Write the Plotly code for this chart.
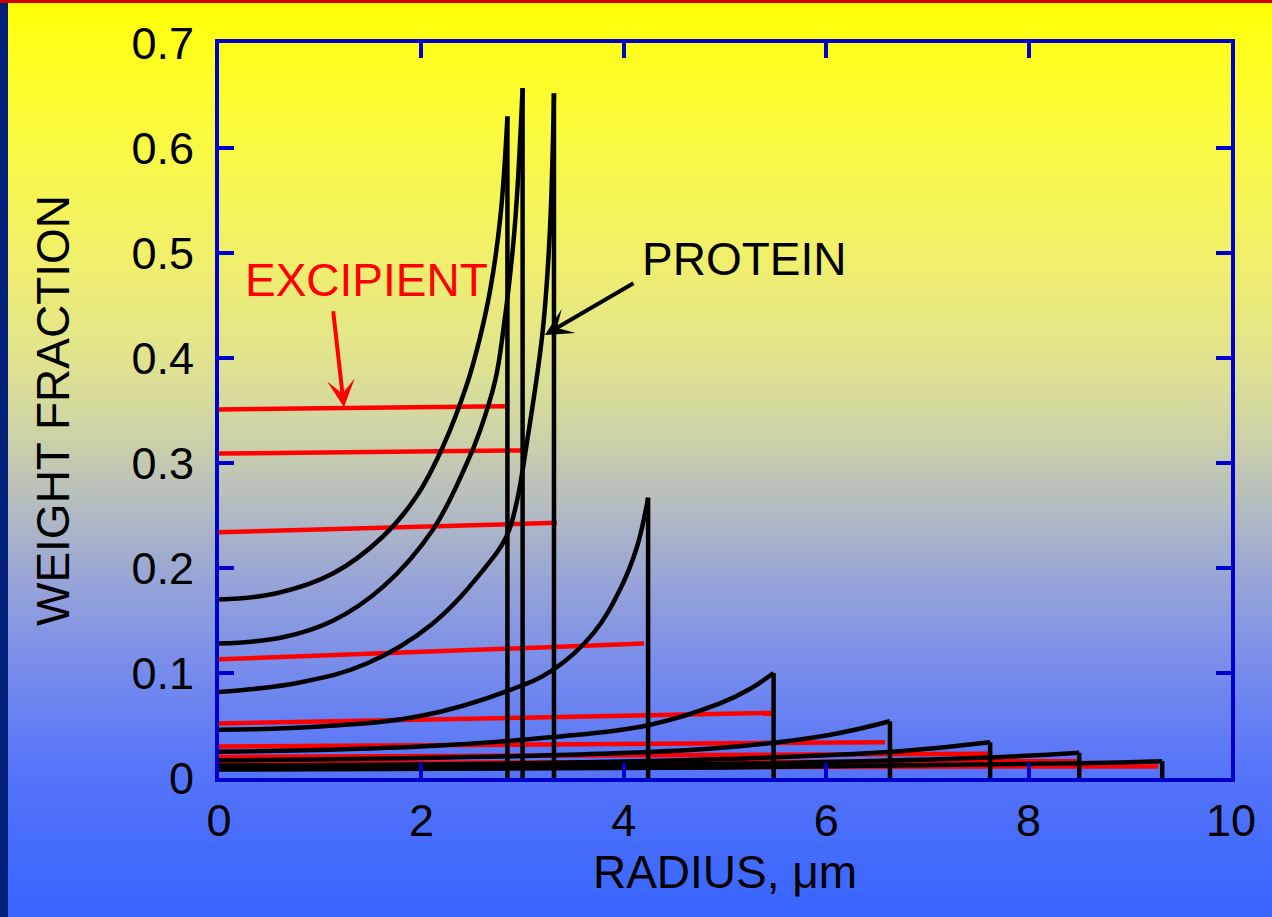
import base64
import struct
import zlib

import plotly.graph_objects as go

# ---------------- data ----------------
# Final droplet radius (um) for each drying stage
drop_radius = [2.85, 3.00, 3.31, 4.24, 5.48, 6.63, 7.62, 8.50, 9.32]

# Protein weight-fraction profiles (radius, weight fraction)
protein_r = [
    [0, 0.57, 1.13, 1.62, 1.95, 2.21, 2.45, 2.57, 2.68, 2.78, 2.85],
    [0, 0.63, 1.13, 1.62, 2.11, 2.45, 2.58, 2.73, 2.81, 2.92, 3.00],
    [0, 0.80, 1.46, 2.11, 2.61, 2.84, 2.94, 3.04, 3.20, 3.27, 3.31],
    [0, 1.00, 1.99, 2.88, 3.30, 3.70, 3.96, 4.13, 4.24],
    [0, 1.99, 3.30, 4.23, 4.95, 5.25, 5.48],
    [0, 2.00, 3.76, 5.00, 6.03, 6.63],
    [0, 3.00, 5.00, 6.65, 7.62],
    [0, 4.00, 7.47, 8.50],
    [0, 5.00, 8.50, 9.32],
]
protein_w = [
    [0.170, 0.176, 0.195, 0.230, 0.268, 0.315, 0.375, 0.416, 0.465, 0.534, 0.630],
    [0.128, 0.134, 0.150, 0.182, 0.236, 0.300, 0.331, 0.379, 0.427, 0.522, 0.657],
    [0.082, 0.091, 0.109, 0.147, 0.198, 0.230, 0.262, 0.318, 0.427, 0.522, 0.652],
    [0.046, 0.049, 0.059, 0.084, 0.103, 0.138, 0.179, 0.220, 0.267],
    [0.025, 0.030, 0.039, 0.050, 0.071, 0.085, 0.100],
    [0.017, 0.019, 0.023, 0.029, 0.041, 0.054],
    [0.012, 0.014, 0.018, 0.025, 0.034],
    [0.010, 0.012, 0.019, 0.024],
    [0.008, 0.010, 0.014, 0.016],
]

# Excipient weight-fraction profiles (radius, weight fraction)
excipient_r = [
    [0, 2.84], [0, 3.00], [0, 3.34], [0, 4.20], [0, 5.48],
    [0, 6.58], [0, 7.60], [0, 8.50], [0, 9.28],
]
excipient_w = [
    [0.351, 0.354], [0.309, 0.312], [0.234, 0.243], [0.113, 0.128], [0.052, 0.062],
    [0.030, 0.034], [0.020, 0.023], [0.014, 0.016], [0.010, 0.011],
]

x_ticks = [0, 2, 4, 6, 8, 10]
y_ticks = [0, 0.1, 0.2, 0.3, 0.4, 0.5, 0.6, 0.7]
y_tick_text = ["0", "0.1", "0.2", "0.3", "0.4", "0.5", "0.6", "0.7"]

# ---------------- styling ----------------
W, H = 1272, 917
ML, MR, MT, MB = 219, 41, 43, 139
PW, PH = W - ML - MR, H - MT - MB
FONT = "Liberation Sans, Arial, Helvetica, sans-serif"
AXIS_BLUE = "#0000CC"
LW = 4.5

# vertical background gradient (pixel row, rgb)
grad_stops = [
    (0, (255, 255, 0)), (40, (255, 255, 25)), (150, (249, 249, 70)),
    (250, (241, 240, 105)), (350, (226, 228, 140)), (420, (210, 214, 162)),
    (500, (182, 190, 190)), (580, (152, 164, 215)), (660, (122, 142, 234)),
    (760, (88, 118, 248)), (917, (55, 100, 255)),
]


def grad_color(y):
    for (y0, c0), (y1, c1) in zip(grad_stops[:-1], grad_stops[1:]):
        if y0 <= y <= y1:
            t = (y - y0) / (y1 - y0) if y1 > y0 else 0
            return tuple(int(round(a + (b - a) * t)) for a, b in zip(c0, c1))
    return grad_stops[-1][1]


def make_png(width, height):
    raw = b""
    for y in range(height):
        r, g, b = grad_color(y)
        raw += b"\x00" + bytes([r, g, b]) * width

    def chunk(tag, data):
        c = struct.pack(">I", len(data)) + tag + data
        return c + struct.pack(">I", zlib.crc32(tag + data) & 0xFFFFFFFF)
    png = b"\x89PNG\r\n\x1a\n"
    png += chunk(b"IHDR", struct.pack(">IIBBBBB", width, height, 8, 2, 0, 0, 0))
    png += chunk(b"IDAT", zlib.compress(raw, 9))
    png += chunk(b"IEND", b"")
    return "data:image/png;base64," + base64.b64encode(png).decode()


def px_x(p):
    return (p - ML) / PW


def px_y(p):
    return (H - MB - p) / PH


fig = go.Figure()

# excipient (red) lines
for r, w in zip(excipient_r, excipient_w):
    fig.add_trace(go.Scatter(x=r, y=w, mode="lines",
                             line=dict(color="#FF0000", width=LW),
                             hoverinfo="skip", showlegend=False))

# protein (black) curves with a vertical drop at the droplet surface
for r, w, R in zip(protein_r, protein_w, drop_radius):
    fig.add_trace(go.Scatter(x=r, y=w, mode="lines",
                             line=dict(color="black", width=LW, shape="spline", smoothing=1.1),
                             hoverinfo="skip", showlegend=False))
    fig.add_trace(go.Scatter(x=[R, R], y=[w[-1], 0], mode="lines",
                             line=dict(color="black", width=LW),
                             hoverinfo="skip", showlegend=False))

TICK_FONT = dict(family=FONT, size=45, color="black")
TEXT_FONT = dict(family=FONT, size=46, color="black")

axis_common = dict(
    showline=True, linecolor=AXIS_BLUE, linewidth=4, mirror="ticks",
    ticks="inside", ticklen=15, tickwidth=4, tickcolor=AXIS_BLUE,
    showgrid=False, zeroline=False, tickfont=TICK_FONT,
)

fig.update_layout(
    width=W, height=H,
    margin=dict(l=ML, r=MR, t=MT, b=MB, pad=0),
    paper_bgcolor="rgba(0,0,0,0)", plot_bgcolor="rgba(0,0,0,0)",
    font=TEXT_FONT,
    xaxis=dict(range=[0, 10], tickvals=x_ticks, ticklabelstandoff=0,
               title=dict(text="RADIUS, \u03bcm", standoff=12, font=TEXT_FONT),
               **axis_common),
    yaxis=dict(range=[0, 0.7], tickvals=y_ticks, ticktext=y_tick_text,
               ticklabelstandoff=12,
               title=dict(text="WEIGHT FRACTION", standoff=48, font=TEXT_FONT),
               **axis_common),
    images=[dict(source=make_png(2, H), xref="paper", yref="paper",
                 x=px_x(0), y=px_y(0), sizex=W / PW, sizey=H / PH,
                 xanchor="left", yanchor="top", sizing="stretch",
                 layer="below")],
    shapes=[
        dict(type="rect", xref="paper", yref="paper", x0=px_x(0), x1=px_x(W),
             y0=px_y(0), y1=px_y(3), fillcolor="#CC0000", line=dict(width=0),
             layer="below"),
        dict(type="rect", xref="paper", yref="paper", x0=px_x(0), x1=px_x(8),
             y0=px_y(3), y1=px_y(H), fillcolor="#00207A", line=dict(width=0),
             layer="below"),
    ],
    annotations=[
        dict(text="EXCIPIENT", x=1.46, y=0.474, xref="x", yref="y",
             showarrow=False, font=dict(family=FONT, size=46, color="#FF0000")),
        dict(text="PROTEIN", x=5.19, y=0.494, xref="x", yref="y",
             showarrow=False, font=TEXT_FONT),
        dict(text="", x=1.235, y=0.353, ax=1.127, ay=0.446, xref="x", yref="y",
             axref="x", ayref="y", showarrow=True, arrowhead=3, arrowsize=1.15,
             arrowwidth=4, arrowcolor="#FF0000", standoff=0),
        dict(text="", x=3.22, y=0.422, ax=4.11, ay=0.472, xref="x", yref="y",
             axref="x", ayref="y", showarrow=True, arrowhead=3, arrowsize=1.15,
             arrowwidth=4, arrowcolor="black", standoff=0),
    ],
)

fig.write_html(
    "out.html",
    config={"displayModeBar": False},
    post_script="document.body.style.margin='0';document.body.style.padding='0';"
                "document.body.style.overflow='hidden';",
)
